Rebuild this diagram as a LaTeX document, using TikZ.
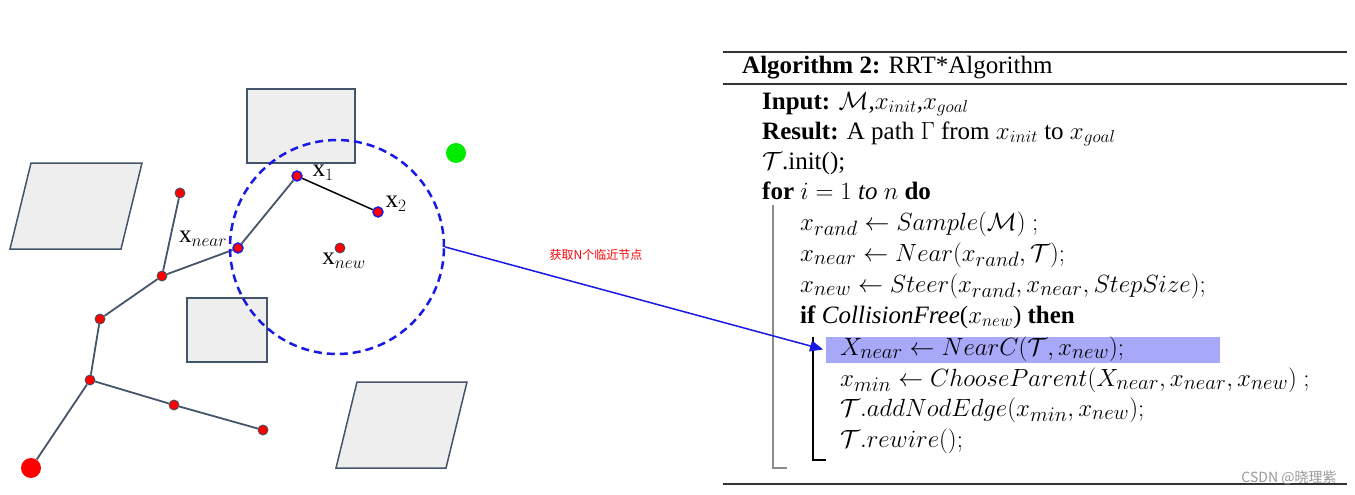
\documentclass[tikz,border=0pt]{standalone}
\usepackage{fontspec}
\setmainfont{Liberation Serif}
\newfontfamily\cjk{Noto Sans CJK SC}
\usetikzlibrary{arrows.meta}
\DeclareMathSizes{25}{25}{19}{14}
\DeclareMathSizes{26}{26}{20}{15}
\definecolor{slate}{HTML}{44546A}
\definecolor{obfill}{HTML}{EEEEEE}
\definecolor{ringblue}{RGB}{25,25,230}
\definecolor{hlcol}{RGB}{168,168,248}
\definecolor{goalgreen}{RGB}{0,235,0}
\begin{document}
\begin{tikzpicture}[x=1pt,y=-1pt,
  obst/.style={fill=obfill,draw=slate,line width=1.5pt,line join=miter},
  edge/.style={draw=slate,line width=1.8pt},
  tnode/.style={circle,fill=red,draw=slate,line width=0.9pt,minimum size=10pt,inner sep=0pt},
  bnode/.style={tnode,draw=ringblue,line width=1.4pt},
  bigdot/.style={circle,minimum size=20pt,inner sep=0pt},
  lab/.style={inner sep=0pt,font=\fontsize{25}{28}\selectfont},
  alg/.style={anchor=base west,inner sep=0pt,font=\fontsize{25}{30}\selectfont},
  malg/.style={anchor=base west,inner sep=0pt,font=\fontsize{26}{30}\selectfont},
  rulestyle/.style={line width=2pt,draw=black!80}
]
\useasboundingbox (0,0) rectangle (1355,495);
% obstacles
\draw[obst] (247,89) rectangle (355,163);
\draw[obst] (31,163) -- (142,163) -- (121,249) -- (10,249) -- cycle;
\draw[obst] (187,298) rectangle (267,362);
\draw[obst] (357,382) -- (467,382) -- (446,468) -- (336,468) -- cycle;
% tree nodes
\node[bigdot,fill=red] (s) at (31,468) {};
\node[bigdot,fill=goalgreen] (g) at (456,153) {};
\node[tnode] (nc) at (90,380) {};
\node[tnode] (nb) at (100,319) {};
\node[tnode] (na) at (162,276) {};
\node[tnode] (nt) at (180,193) {};
\node[tnode] (nd) at (174,405) {};
\node[tnode] (ne) at (263,430) {};
\node[bnode] (xn) at (238,248) {};
\node[bnode] (x1) at (297,176) {};
\node[bnode] (x2) at (378,212) {};
\node[tnode] (xw) at (340,248) {};
% edges
\draw[edge] (s) -- (nc);
\draw[edge] (nc) -- (nb);
\draw[edge] (nb) -- (na);
\draw[edge] (na) -- (nt);
\draw[edge] (na) -- (xn);
\draw[edge] (xn) -- (x1);
\draw[edge] (nc) -- (nd);
\draw[edge] (nd) -- (ne);
\draw[line width=1.5pt,black] (x1) -- (x2);
% labels
\node[lab] (l1) at (323,173) {$\mathrm{x}_1$};
\node[lab] (l2) at (396,204) {$\mathrm{x}_2$};
\node[lab] (ln) at (203,239) {$\mathrm{x}_{near}$};
\node[lab] (lw) at (344,261) {$\mathrm{x}_{new}$};
% circle
\node[circle,draw=ringblue,line width=2.5pt,dash pattern=on 8pt off 5pt,minimum size=214pt,inner sep=0pt] (circ) at (337,247) {};
% algorithm
\draw[rulestyle] (723,52) -- (1347,52);
\draw[rulestyle] (723,84) -- (1347,84);
\draw[rulestyle] (723,484) -- (1347,484);
\node[fill=hlcol,inner sep=0pt,minimum width=394pt,minimum height=26pt,anchor=north west] (hl) at (826,337) {};
\node[alg] (t0) at (742,74) {\textbf{Algorithm 2:} RRT*Algorithm};
\node[alg] (t1) at (762,109) {\textbf{Input:} $\mathcal{M}$,$x_{init}$,$x_{goal}$};
\node[alg] (t2) at (762,139) {\textbf{Result:} A path $\Gamma$ from $x_{init}$ to $x_{goal}$};
\node[alg] (t3) at (762,169) {$\mathcal{T}$.init();};
\node[alg] (t4) at (762,199) {\textbf{for} $i=1$ \textit{to} $n$ \textbf{do}};
\node[malg] (t5) at (800,230) {$x_{rand}\leftarrow Sample(\mathcal{M})\ ;$};
\node[malg] (t6) at (800,261) {$x_{near}\leftarrow Near(x_{rand},\mathcal{T});$};
\node[malg] (t7) at (800,292) {$x_{new}\leftarrow Steer(x_{rand},x_{near},StepSize);$};
\node[alg] (t8) at (800,323) {\textbf{if} \textit{CollisionFree}($x_{new}$) \textbf{then}};
\node[malg] (t9) at (840,355) {$X_{near}\leftarrow NearC(\mathcal{T},x_{new});$};
\node[malg] (t10) at (840,386) {$x_{min}\leftarrow ChooseParent(X_{near},x_{near},x_{new})\ ;$};
\node[malg] (t11) at (840,416) {$\mathcal{T}.addNodEdge(x_{min},x_{new});$};
\node[malg] (t12) at (840,447) {$\mathcal{T}.rewire();$};
\draw[line width=1.5pt,black!45] (773,205) -- (773,468) -- (787,468);
\draw[line width=1.5pt,black] (813,337) -- (813,460) -- (826,460);
% arrow
\draw[ringblue,line width=1.5pt,-{Triangle[length=13pt,width=11pt]},shorten >=3pt] (circ.east) -- (hl.west);
\node[red,inner sep=0pt,font=\cjk\fontsize{12}{14}\selectfont] (cap) at (596,255) {获取N个临近节点};
\node[black!40,inner sep=0pt,font=\cjk\fontsize{14}{16}\selectfont] (wm) at (1289,478) {CSDN @晓理紫};
\end{tikzpicture}
\end{document}
